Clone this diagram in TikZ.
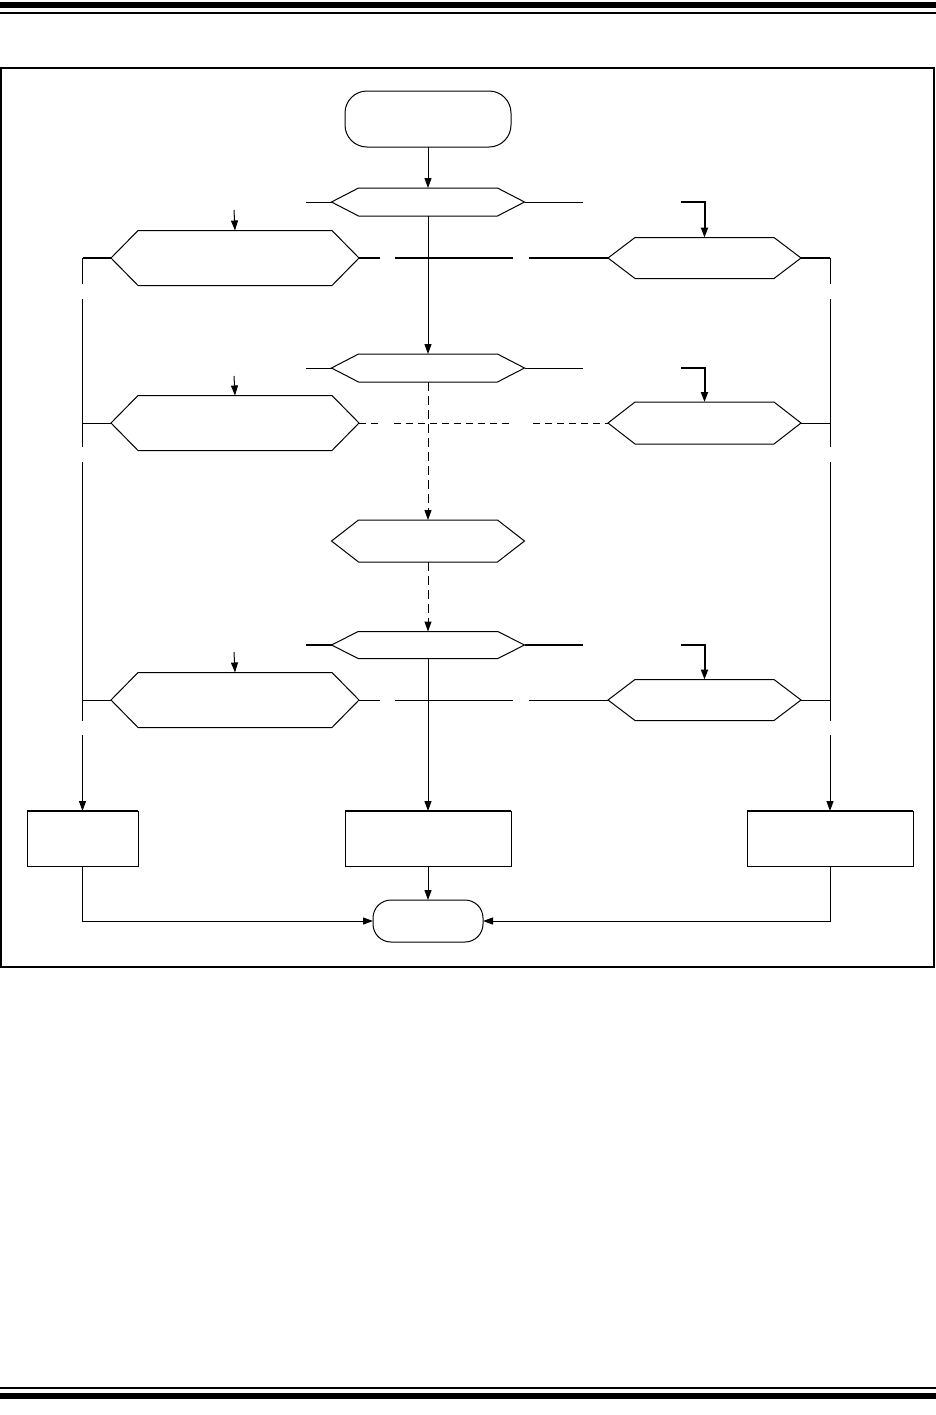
\documentclass[tikz,border=0pt]{standalone}
\usetikzlibrary{positioning,arrows.meta,shapes.symbols,calc}

\begin{document}
\begin{tikzpicture}[x=0.5pt,y=-0.5pt,line width=0.5pt,
  >={Triangle[length=5pt,width=3.5pt]},
  hexbox/.style n args={3}{draw,signal,signal to=east and west,minimum width=#1,
    minimum height=#2,signal pointer angle=#3,inner sep=0pt,outer sep=0pt},
  termbox/.style n args={3}{draw,rectangle,rounded corners=#3,minimum width=#1,
    minimum height=#2,inner sep=0pt,outer sep=0pt},
  actbox/.style={draw,rectangle,minimum width=#1,minimum height=27.5pt,inner sep=0pt,outer sep=0pt},
  heavy/.style={line width=1pt},
  dashlink/.style={dash pattern=on 4.5pt off 2.5pt},
  cutlink/.style={dash pattern=on 10.5pt off 7.5pt on 59pt off 8pt on 41pt},
  cutdash/.style={dash pattern=on 3.5pt off 2.5pt on 3.5pt off 8pt
    on 3.5pt off 2.5pt on 3.5pt off 2.5pt on 3.5pt off 2.5pt on 3.5pt off 2.5pt
    on 3.5pt off 2.5pt on 3.5pt off 2.5pt on 3.5pt off 2.5pt on 3.5pt off 2.5pt
    on 3.5pt off 2.5pt on 3.5pt off 12pt
    on 3.5pt off 2.5pt on 3.5pt off 2.5pt on 3.5pt off 2.5pt on 3.5pt off 2.5pt
    on 3.5pt off 2.5pt on 3.5pt off 2.5pt on 3pt off 2pt},
  sidelink/.style={dash pattern=on 13pt off 7.5pt on 74pt off 7.5pt on 129.5pt off 7pt on 100pt}]
\useasboundingbox (0,0) rectangle (936,1415);
% page rules and frame
\fill (0,2) rectangle (936,8);
\fill (0,12) rectangle (936,14);
\fill (0,1387) rectangle (936,1389);
\fill (0,1393) rectangle (936,1399);
\draw[line width=1pt] (1,68) rectangle (934,967);

% centre column
\node[termbox={83pt}{28pt}{11pt}] (start) at (428,119) {};
\node[hexbox={96.5pt}{14pt}{54.8}] (dec1) at (428,202) {};
\node[hexbox={96.5pt}{14pt}{54.8}] (dec2) at (428,368) {};
\node[hexbox={96.5pt}{21pt}{75.7}] (mid) at (428,541) {};
\node[hexbox={96.5pt}{13.5pt}{53.6}] (dec3) at (428,645) {};
\node[actbox=83pt] (cbox) at (428,838.5) {};
\node[termbox={55pt}{21pt}{9pt}] (end) at (428,921) {};

% left and right branches
\foreach \nm/\yy in {1/258,2/423,3/700} {
  \node[hexbox={124pt}{27.5pt}{91}] (lhex\nm) at (235,\yy) {};
}
\node[hexbox={96.5pt}{20.5pt}{74.4}] (rhex1) at (704.5,258) {};
\node[hexbox={96.5pt}{21pt}{75.7}] (rhex2) at (704.5,423) {};
\node[hexbox={96.5pt}{20.5pt}{74.4}] (rhex3) at (704.5,700) {};
\node[actbox=55.5pt] (lbox) at (82.5,838.5) {};
\node[actbox=83pt] (rbox) at (830,838.5) {};
\foreach \bx in {lbox,cbox,rbox} {\draw[line width=1.2pt] (\bx.north west) -- (\bx.north east);}

% free ends of the decision outputs
\foreach \nm/\yy in {1/202,2/368,3/645} {
  \coordinate (dw\nm) at (306,\yy);
  \coordinate (de\nm) at (583,\yy);
  \coordinate (rin\nm) at (681,\yy);
}
\coordinate (lin1) at (234,210);
\coordinate (lin2) at (234,376);
\coordinate (lin3) at (234,652);

\draw (dec1.west) -- (dw1);
\draw (dec1.east) -- (de1);
\draw (dec2.west) -- (dw2);
\draw (dec2.east) -- (de2);
\draw[heavy] (dec3.west) -- (dw3);
\draw[heavy] (dec3.east) -- (de3);
\foreach \nm in {1,2,3} {
  \draw[heavy,->] (rin\nm) -| (rhex\nm.north);
  \draw[->] (lin\nm) -- (lhex\nm.north);
}

% main flow
\draw[->] (start) -- (dec1);
\draw[->] (dec1) -- (dec2);
\draw[dashlink,->] (dec2) -- (mid);
\draw[dashlink,->] (mid) -- (dec3);
\draw[->] (dec3) -- (cbox);
\draw[->] (cbox) -- (end);

% cross links between branches
\draw[heavy,cutlink] (lhex1.east) -- (rhex1.west);
\draw[cutdash] (lhex2.east) -- (rhex2.west);
\draw[cutlink] (lhex3.east) -- (rhex3.west);

% side rails
\coordinate (lrail) at (lhex1.west -| lbox.north);
\coordinate (rrail) at (rhex1.east -| rbox.north);
\draw[heavy] (lhex1.west) -- (lrail);
\draw[heavy] (rhex1.east) -- (rrail);
\draw (lhex2.west) -- (lhex2.west -| lbox.north);
\draw (lhex3.west) -- (lhex3.west -| lbox.north);
\draw (rhex2.east) -- (rhex2.east -| rbox.north);
\draw (rhex3.east) -- (rhex3.east -| rbox.north);
\draw[sidelink,->] (lrail) -- (lbox.north);
\draw[sidelink,->] (rrail) -- (rbox.north);
\draw[->] (lbox.south) |- (end.west);
\draw[->] (rbox.south) |- (end.east);
\end{tikzpicture}
\end{document}
